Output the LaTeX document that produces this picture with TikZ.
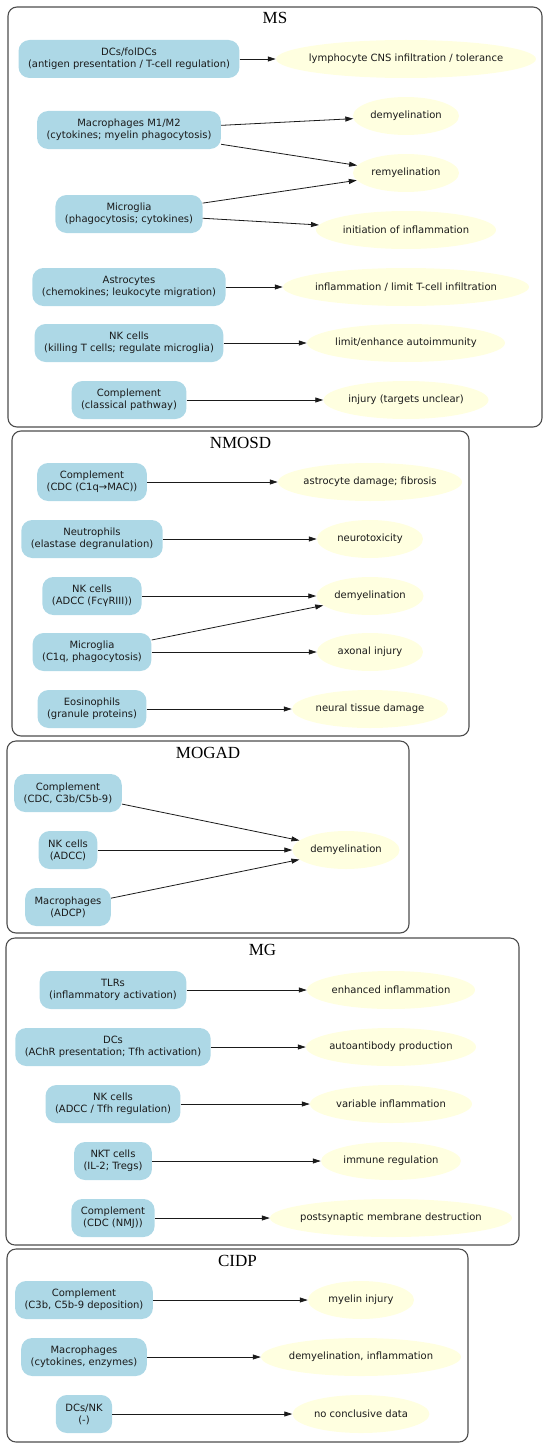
\documentclass[tikz,border=0pt]{standalone}
\usepackage{fontspec}
\setmainfont{DejaVu Sans}
\newfontfamily\immserif{Liberation Serif}
\usepackage{tikz}
\usetikzlibrary{arrows.meta,shapes.geometric}
\definecolor{immBlue}{HTML}{ADD8E6}
\definecolor{immYellow}{HTML}{FFFFE0}
\definecolor{immFrame}{HTML}{4D4D4D}
\definecolor{immInk}{HTML}{1A1A1A}
\tikzset{
  immbox/.style={rectangle,rounded corners=11pt,fill=immBlue,draw=none,
                 minimum height=38pt,inner xsep=9.5pt,inner ysep=3pt,
                 align=center,text=immInk,font=\fontsize{10}{12}\selectfont},
  immeffect/.style={ellipse,fill=immYellow,draw=none,minimum height=38pt,
                    inner xsep=-20pt,inner ysep=0pt,text=immInk,
                    font=\fontsize{10}{12}\selectfont},
  immframe/.style={draw=immFrame,line width=1.1pt,rounded corners=9pt},
  immtitle/.style={anchor=base,inner sep=0pt,
                   font=\immserif\fontsize{17}{20}\selectfont},
  immarrow/.style={-{Triangle[length=8pt,width=5pt]},line width=0.8pt,immInk}
}

\begin{document}
\begin{tikzpicture}[x=1pt,y=-1pt]
    \useasboundingbox (0,0) rectangle (550,1453);

    % MS
    \draw[immframe] (8,7) rectangle (542,427);
    \node[immtitle] (msT) at (275,24) {MS};
    \node[immbox] (dcs) at (129,59) {DCs/folDCs\\(antigen presentation / T-cell regulation)};
    \node[immbox] (mac) at (129,130) {Macrophages M1/M2\\(cytokines; myelin phagocytosis)};
    \node[immbox] (mic) at (129,214) {Microglia\\(phagocytosis; cytokines)};
    \node[immbox] (ast) at (129,287) {Astrocytes\\(chemokines; leukocyte migration)};
    \node[immbox] (nkms) at (129,343) {NK cells\\(killing T cells; regulate microglia)};
    \node[immbox] (cms) at (129,400) {Complement\\(classical pathway)};
    \node[immeffect,minimum width=260pt] (lym) at (406,59) {lymphocyte CNS infiltration / tolerance};
    \node[immeffect,minimum width=106pt] (dmms) at (406,116) {demyelination};
    \node[immeffect,minimum width=106pt] (rem) at (406,173) {remyelination};
    \node[immeffect,minimum width=180pt] (ini) at (406,230) {initiation of inflammation};
    \node[immeffect,minimum width=246pt] (inf) at (406,287) {inflammation / limit T-cell infiltration};
    \node[immeffect,minimum width=198pt] (lim) at (406,343) {limit/enhance autoimmunity};
    \node[immeffect,minimum width=165pt] (inj) at (406,400) {injury (targets unclear)};
    \draw[immarrow] (dcs) -- (lym);
    \draw[immarrow] (mac) -- (dmms);
    \draw[immarrow] (mac) -- (rem);
    \draw[immarrow] (mic) -- (rem);
    \draw[immarrow] (mic) -- (ini);
    \draw[immarrow] (ast) -- (inf);
    \draw[immarrow] (nkms) -- (lim);
    \draw[immarrow] (cms) -- (inj);

    % NMOSD
    \draw[immframe] (12,431) rectangle (469,736);
    \node[immtitle] (nmT) at (240.5,448) {NMOSD};
    \node[immbox] (cnm) at (92,482) {Complement\\(CDC (C1q→MAC))};
    \node[immbox] (neu) at (92,539) {Neutrophils\\(elastase degranulation)};
    \node[immbox] (nknm) at (92,596) {NK cells\\(ADCC (FcγRIII))};
    \node[immbox] (micnm) at (92,652) {Microglia\\(C1q, phagocytosis)};
    \node[immbox] (eos) at (92,709) {Eosinophils\\(granule proteins)};
    \node[immeffect,minimum width=184pt] (asd) at (370,482) {astrocyte damage; fibrosis};
    \node[immeffect,minimum width=106pt] (ntx) at (370,539) {neurotoxicity};
    \node[immeffect,minimum width=107pt] (dmnm) at (370,596) {demyelination};
    \node[immeffect,minimum width=106pt] (axo) at (370,652) {axonal injury};
    \node[immeffect,minimum width=156pt] (ntd) at (370,709) {neural tissue damage};
    \draw[immarrow] (cnm) -- (asd);
    \draw[immarrow] (neu) -- (ntx);
    \draw[immarrow] (nknm) -- (dmnm);
    \draw[immarrow] (micnm) -- (dmnm);
    \draw[immarrow] (micnm) -- (axo);
    \draw[immarrow] (eos) -- (ntd);

    % MOGAD
    \draw[immframe] (7,741) rectangle (409,933);
    \node[immtitle] (moT) at (208,758) {MOGAD};
    \node[immbox] (cmo) at (68,793) {Complement\\(CDC, C3b/C5b-9)};
    \node[immbox] (nkmo) at (68,850) {NK cells\\(ADCC)};
    \node[immbox] (macmo) at (68,907) {Macrophages\\(ADCP)};
    \node[immeffect,minimum width=107pt] (dmmo) at (346,850) {demyelination};
    \draw[immarrow] (cmo) -- (dmmo);
    \draw[immarrow] (nkmo) -- (dmmo);
    \draw[immarrow] (macmo) -- (dmmo);

    % MG
    \draw[immframe] (6,938) rectangle (519,1245);
    \node[immtitle] (mgT) at (262.5,955) {MG};
    \node[immbox] (tlr) at (113,990) {TLRs\\(inflammatory activation)};
    \node[immbox] (dcmg) at (113,1047) {DCs\\(AChR presentation; Tfh activation)};
    \node[immbox] (nkmg) at (113,1104) {NK cells\\(ADCC / Tfh regulation)};
    \node[immbox] (nkt) at (113,1161) {NKT cells\\(IL-2; Tregs)};
    \node[immbox] (cmg) at (113,1218) {Complement\\(CDC (NMJ))};
    \node[immeffect,minimum width=168pt] (enh) at (391,990) {enhanced inflammation};
    \node[immeffect,minimum width=170pt] (aab) at (391,1047) {autoantibody production};
    \node[immeffect,minimum width=162pt] (var) at (391,1104) {variable inflammation};
    \node[immeffect,minimum width=140pt] (imr) at (391,1161) {immune regulation};
    \node[immeffect,minimum width=242pt] (psd) at (391,1218) {postsynaptic membrane destruction};
    \draw[immarrow] (tlr) -- (enh);
    \draw[immarrow] (dcmg) -- (aab);
    \draw[immarrow] (nkmg) -- (var);
    \draw[immarrow] (nkt) -- (imr);
    \draw[immarrow] (cmg) -- (psd);

    % CIDP
    \draw[immframe] (7,1249) rectangle (468,1442);
    \node[immtitle] (ciT) at (237.5,1266) {CIDP};
    \node[immbox] (cci) at (84,1300) {Complement\\(C3b, C5b-9 deposition)};
    \node[immbox] (macci) at (84,1357) {Macrophages\\(cytokines, enzymes)};
    \node[immbox] (dnk) at (84,1414) {DCs/NK\\(-)};
    \node[immeffect,minimum width=106pt] (myi) at (361,1300) {myelin injury};
    \node[immeffect,minimum width=200pt] (dmci) at (361,1357) {demyelination, inflammation};
    \node[immeffect,minimum width=137pt] (ncd) at (361,1414) {no conclusive data};
    \draw[immarrow] (cci) -- (myi);
    \draw[immarrow] (macci) -- (dmci);
    \draw[immarrow] (dnk) -- (ncd);
\end{tikzpicture}
\end{document}
